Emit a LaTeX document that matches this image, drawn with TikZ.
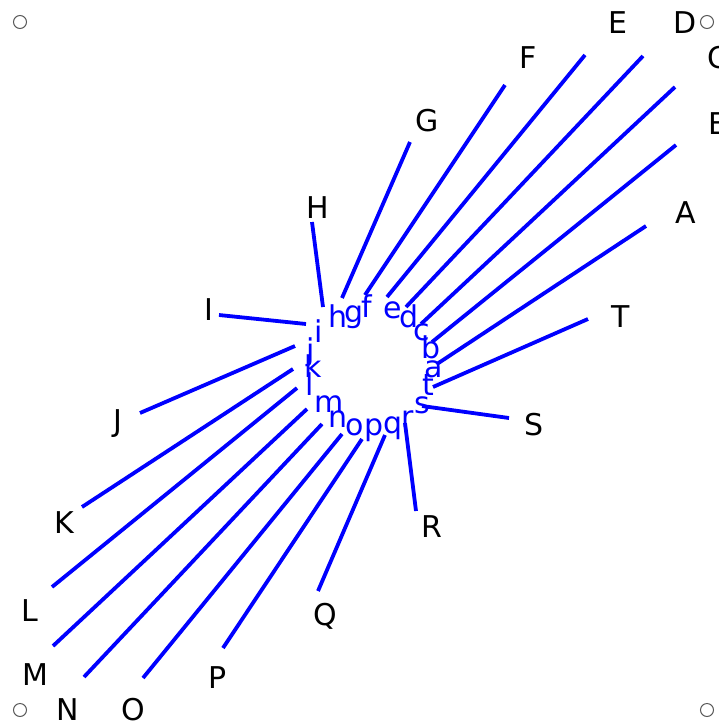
\documentclass[tikz,border=0pt]{standalone}
\usepackage{fontspec}
\setmainfont{DejaVu Sans}
\usepackage{tikz}

\begin{document}
\begin{tikzpicture}[x=1pt,y=-1pt,
  big/.style={anchor=base,inner sep=0pt,font=\fontsize{30}{36}\selectfont},
  small/.style={big,text=blue},
  link/.style={blue,line width=3.8pt},
  cornerdot/.style={draw=black!65,line width=1pt}]
  \useasboundingbox (0,0) rectangle (719,724);
  % corner markers
  \draw[cornerdot] (20,22) circle (6.5);
  \draw[cornerdot] (707,22) circle (6.5);
  \draw[cornerdot] (20,710) circle (6.5);
  \draw[cornerdot] (707,710) circle (6.5);
  % inner ring
  \node[small] (a) at (434,377) {a};
  \node[small] (b) at (431,358) {b};
  \node[small] (c) at (422,340) {c};
  \node[small] (d) at (409,327) {d};
  \node[small] (e) at (393,318) {e};
  \node[small] (f) at (367,317) {f};
  \node[small] (g) at (354,322) {g};
  \node[small] (h) at (338,327) {h};
  \node[small] (i) at (319,342) {i};
  \node[small] (j) at (311,360) {j};
  \node[small] (k) at (313,377) {k};
  \node[small] (l) at (310,395) {l};
  \node[small] (m) at (329,412) {m};
  \node[small] (n) at (338,427) {n};
  \node[small] (o) at (355,435) {o};
  \node[small] (p) at (374,435) {p};
  \node[small] (q) at (393,433) {q};
  \node[small] (r) at (408,427) {r};
  \node[small] (s) at (422,413) {s};
  \node[small] (t) at (428,395) {t};
  % outer labels
  \node[big] (A) at (686,223) {A};
  \node[big] (B) at (719,134) {B};
  \node[big] (C) at (718,68) {C};
  \node[big] (D) at (685,33) {D};
  \node[big] (E) at (618,33) {E};
  \node[big] (F) at (528,68) {F};
  \node[big] (G) at (427,131) {G};
  \node[big] (H) at (318,218) {H};
  \node[big] (I) at (209,320) {I};
  \node[big] (J) at (118,431) {J};
  \node[big] (K) at (64,533) {K};
  \node[big] (L) at (30,621) {L};
  \node[big] (M) at (35,685) {M};
  \node[big] (N) at (68,720) {N};
  \node[big] (O) at (133,720) {O};
  \node[big] (P) at (218,688) {P};
  \node[big] (Q) at (325,625) {Q};
  \node[big] (R) at (432,537) {R};
  \node[big] (S) at (534,435) {S};
  \node[big] (T) at (621,327) {T};
  % line ends
  \coordinate (in-a) at (437,364); \coordinate (out-a) at (646,226);
  \coordinate (in-b) at (432,342); \coordinate (out-b) at (676,145);
  \coordinate (in-c) at (421,324); \coordinate (out-c) at (675,87);
  \coordinate (in-d) at (406,307); \coordinate (out-d) at (643,56);
  \coordinate (in-e) at (387,297); \coordinate (out-e) at (585,55);
  \coordinate (in-f) at (365,295); \coordinate (out-f) at (505,85);
  \coordinate (in-g) at (342,298); \coordinate (out-g) at (410,142);
  \coordinate (in-h) at (323,307); \coordinate (out-h) at (312,222);
  \coordinate (in-i) at (306,324); \coordinate (out-i) at (219,315);
  \coordinate (in-j) at (295,346); \coordinate (out-j) at (140,413);
  \coordinate (in-k) at (293,369); \coordinate (out-k) at (82,507);
  \coordinate (in-l) at (297,388); \coordinate (out-l) at (52,587);
  \coordinate (in-m) at (307,409); \coordinate (out-m) at (53,646);
  \coordinate (in-n) at (322,424); \coordinate (out-n) at (84,677);
  \coordinate (in-o) at (342,434); \coordinate (out-o) at (143,678);
  \coordinate (in-p) at (362,439); \coordinate (out-p) at (223,648);
  \coordinate (in-q) at (385,435); \coordinate (out-q) at (318,591);
  \coordinate (in-r) at (405,423); \coordinate (out-r) at (416,511);
  \coordinate (in-s) at (422,406); \coordinate (out-s) at (509,418);
  \coordinate (in-t) at (433,387); \coordinate (out-t) at (588,319);
  \foreach \n in {a,...,t}
    \draw[link] (in-\n) -- (out-\n);
\end{tikzpicture}
\end{document}
